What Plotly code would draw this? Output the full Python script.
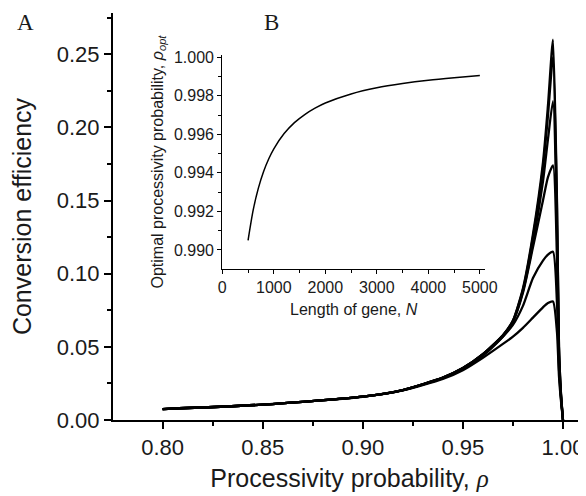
#!/usr/bin/env python3
"""
Conversion efficiency vs processivity probability, with inset of optimal
processivity probability vs gene length. Values read off the published figure.
"""
import plotly.graph_objects as go

# Main panel (A): processivity probability grid and one efficiency curve per gene
rho = [0.80, 0.85, 0.90, 0.92, 0.94, 0.95, 0.96, 0.97, 0.975, 0.98, 0.985,
       0.99, 0.9925, 0.995, 0.997, 0.998, 0.999, 1.0]
eff_1 = [0.0075, 0.0105, 0.0160, 0.0205, 0.0290, 0.0355, 0.0450, 0.0580, 0.0680,
         0.0900, 0.1270, 0.1760, 0.2150, 0.2600, 0.1500, 0.0500, 0.0180, 0.0]
eff_2 = [0.0075, 0.0105, 0.0160, 0.0205, 0.0290, 0.0355, 0.0450, 0.0580, 0.0678,
         0.0890, 0.1250, 0.1720, 0.2080, 0.2480, 0.1450, 0.0500, 0.0180, 0.0]
eff_3 = [0.0075, 0.0105, 0.0160, 0.0205, 0.0290, 0.0355, 0.0450, 0.0578, 0.0675,
         0.0880, 0.1210, 0.1630, 0.1920, 0.2180, 0.1300, 0.0450, 0.0170, 0.0]
eff_4 = [0.0075, 0.0105, 0.0160, 0.0205, 0.0289, 0.0354, 0.0448, 0.0570, 0.0670,
         0.0870, 0.1180, 0.1500, 0.1660, 0.1740, 0.1100, 0.0400, 0.0160, 0.0]
eff_5 = [0.0075, 0.0105, 0.0160, 0.0204, 0.0286, 0.0350, 0.0440, 0.0570, 0.0650,
         0.0780, 0.0970, 0.1090, 0.1130, 0.1150, 0.0800, 0.0350, 0.0150, 0.0]
eff_6 = [0.0075, 0.0105, 0.0159, 0.0202, 0.0280, 0.0340, 0.0425, 0.0520, 0.0570,
         0.0630, 0.0700, 0.0770, 0.0800, 0.0810, 0.0600, 0.0300, 0.0130, 0.0]
eff_curves = [eff_1, eff_2, eff_3, eff_4, eff_5, eff_6]

# Inset (B): optimal processivity probability vs length of gene
gene_len = [500, 600, 700, 800, 900, 1000, 1200, 1400, 1600, 1800, 2000,
            2500, 3000, 3500, 4000, 4500, 5000]
rho_opt = [0.99050, 0.99208, 0.99321, 0.99406, 0.99472, 0.99525, 0.99604,
           0.99661, 0.99703, 0.99736, 0.99763, 0.99810, 0.99842, 0.99864,
           0.99881, 0.99894, 0.99905]

SANS = "Liberation Sans, Arial, sans-serif"
SERIF = "Liberation Serif, Times New Roman, serif"
INK = "#1a1a1a"

fig = go.Figure()

for ys in eff_curves:
    fig.add_trace(go.Scatter(
        x=rho, y=ys, mode='lines',
        line=dict(color='black', width=2.3, shape='spline', smoothing=0.6),
        showlegend=False, hoverinfo='skip'
    ))

fig.add_trace(go.Scatter(
    x=gene_len, y=rho_opt, mode='lines', xaxis='x2', yaxis='y2',
    line=dict(color='black', width=1.5, shape='spline', smoothing=0.8),
    showlegend=False, hoverinfo='skip'
))

main_axis = dict(
    automargin=False,
    showline=True, linecolor='black', linewidth=2,
    ticks='outside', ticklen=7, tickwidth=2, tickcolor='black',
    showgrid=False, zeroline=False,
    tickfont=dict(family=SANS, size=22, color=INK),
)
inset_axis = dict(
    automargin=False,
    showline=True, linecolor='black', linewidth=1.2,
    ticks='outside', ticklen=4, tickwidth=1.2, tickcolor='black',
    showgrid=False, zeroline=False,
    tickfont=dict(family=SANS, size=16, color=INK),
)

# the page body adds an 8px offset, so margins are shifted up/left by 8px
fig.update_layout(
    width=586, height=496,
    margin=dict(l=105, r=8, t=5, b=84, autoexpand=False),
    paper_bgcolor='white', plot_bgcolor='rgba(0,0,0,0)',
    xaxis=dict(
        main_axis, range=[0.7752, 1.0115], tick0=0.8, dtick=0.05, tickformat='.2f',
        minor=dict(dtick=0.025, tick0=0.8, ticks='outside', ticklen=4, tickwidth=2, tickcolor='black'),
        title=dict(text='Processivity probability, <span style="font-family:Liberation Serif"><i>ρ</i></span>',
                   font=dict(family=SANS, size=25, color=INK), standoff=10),
    ),
    yaxis=dict(
        main_axis, range=[0, 0.2782], tick0=0, dtick=0.05, tickformat='.2f',
        minor=dict(dtick=0.025, tick0=0, ticks='outside', ticklen=4, tickwidth=2, tickcolor='black'),
        title=dict(text='Conversion efficiency', font=dict(family=SANS, size=25, color=INK), standoff=19),
    ),
    xaxis2=dict(
        inset_axis, domain=[0.2311, 0.7865], anchor='y2', range=[0, 5100],
        tick0=0, dtick=1000,
        minor=dict(dtick=500, tick0=0, ticks='outside', ticklen=3, tickwidth=1, tickcolor='black'),
        title=dict(text='Length of gene, <i>N</i>', font=dict(family=SANS, size=16, color=INK), standoff=8),
    ),
    yaxis2=dict(
        inset_axis, domain=[0.371, 0.8968], anchor='x2', range=[0.98901, 1.00012],
        tick0=0.990, dtick=0.002, tickformat='.3f',
        minor=dict(dtick=0.001, tick0=0.990, ticks='outside', ticklen=3, tickwidth=1, tickcolor='black'),
        title=dict(text='Optimal processivity probability, <i>ρ</i><sub><i>opt</i></sub>',
                   font=dict(family=SANS, size=16, color=INK), standoff=6),
    ),
    annotations=[
        dict(text='A', x=-0.185, y=0.977, xref='paper', yref='paper', showarrow=False,
             xanchor='center', yanchor='middle',
             font=dict(family=SERIF, size=23, color=INK)),
        dict(text='B', x=0.336, y=0.977, xref='paper', yref='paper', showarrow=False,
             xanchor='center', yanchor='middle',
             font=dict(family=SERIF, size=23, color=INK)),
    ],
)

fig.write_html("out.html")
